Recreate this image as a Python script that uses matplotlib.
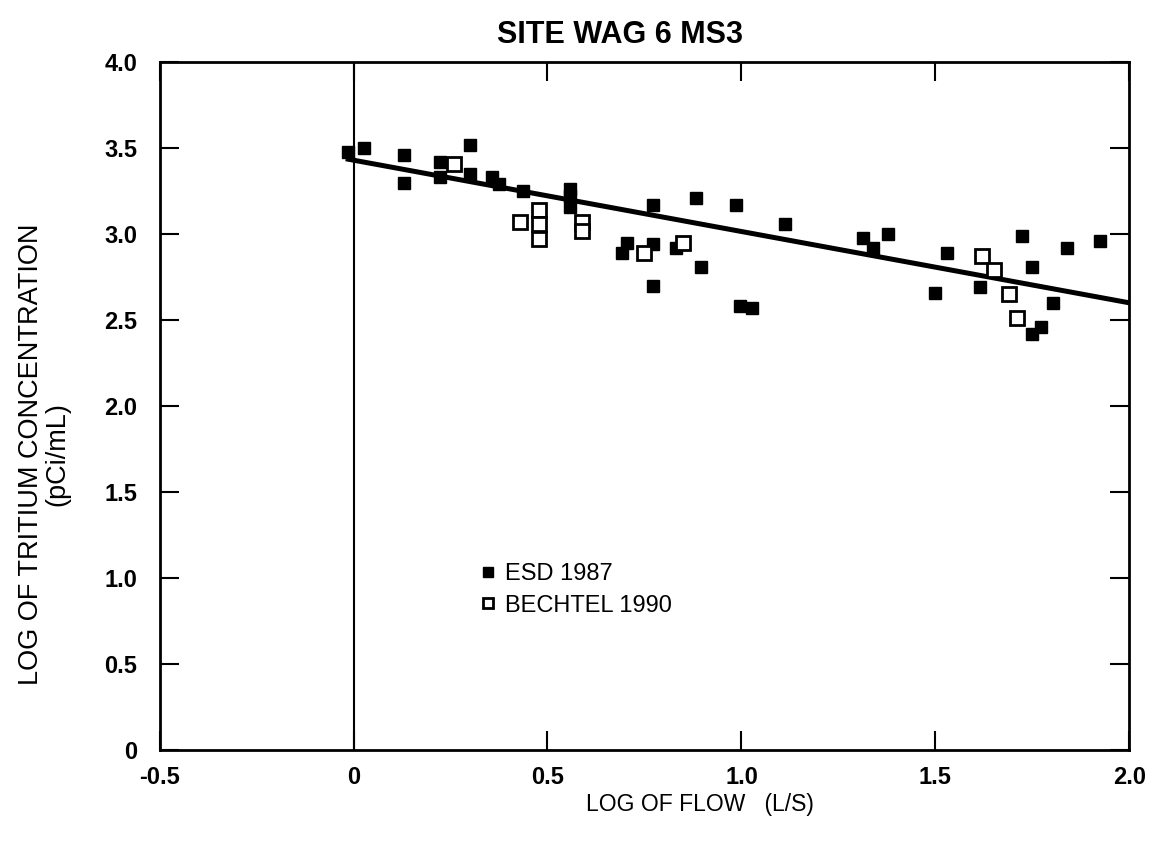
import matplotlib
matplotlib.use("Agg")
import matplotlib.pyplot as plt
import numpy as np

plt.rcParams['font.family'] = ['Liberation Sans', 'DejaVu Sans']

# ESD 1987 (filled squares)
esd_x = [-0.015, 0.026, 0.131, 0.131, 0.222, 0.222, 0.299, 0.299, 0.356, 0.376,
         0.438, 0.557, 0.557, 0.557, 0.691, 0.706, 0.771, 0.771, 0.771, 0.830,
         0.884, 0.897, 0.987, 0.997, 1.028, 1.111, 1.314, 1.338, 1.379, 1.500,
         1.531, 1.616, 1.724, 1.750, 1.773, 1.802, 1.840, 1.923, 1.750]
esd_y = [3.48, 3.50, 3.46, 3.30, 3.42, 3.33, 3.52, 3.35, 3.33, 3.29,
         3.25, 3.26, 3.22, 3.16, 2.89, 2.95, 2.94, 3.17, 2.70, 2.92,
         3.21, 2.81, 3.17, 2.58, 2.57, 3.06, 2.98, 2.92, 3.00, 2.66,
         2.89, 2.69, 2.99, 2.81, 2.46, 2.60, 2.92, 2.96, 2.42]

# BECHTEL 1990 (open squares)
bech_x = [0.26, 0.43, 0.477, 0.477, 0.477, 0.59, 0.59, 0.75, 0.85, 1.62, 1.65, 1.69, 1.71]
bech_y = [3.41, 3.07, 3.14, 3.06, 2.97, 3.07, 3.02, 2.89, 2.95, 2.87, 2.79, 2.65, 2.51]

# regression line
fit_intercept = 3.43
fit_slope = -0.415
fit_x = [-0.02, 2.0]

xticks = [-0.5, 0, 0.5, 1.0, 1.5, 2.0]
xtick_labels = ['-0.5', '0', '0.5', '1.0', '1.5', '2.0']
yticks = [0, 0.5, 1.0, 1.5, 2.0, 2.5, 3.0, 3.5, 4.0]
ytick_labels = ['0', '0.5', '1.0', '1.5', '2.0', '2.5', '3.0', '3.5', '4.0']

fig = plt.figure(figsize=(11.56, 8.52), dpi=100)
ax = fig.add_axes([0.138, 0.12, 0.839, 0.807])

ax.axvline(0, color='black', lw=1.5, zorder=1)
fx = np.array(fit_x)
ax.plot(fx, fit_intercept + fit_slope * fx, color='black', lw=3.6, zorder=2,
        solid_capstyle='butt')
ax.plot(esd_x, esd_y, 's', color='black', ms=8.8, ls='none', zorder=3,
        label='ESD 1987')
ax.plot(bech_x, bech_y, 's', mfc='white', mec='black', mew=2.0, ms=9.5,
        ls='none', zorder=4, label='BECHTEL 1990')

ax.set_xlim(-0.5, 2.0)
ax.set_ylim(0, 4.0)
ax.set_xticks(xticks)
ax.set_xticklabels(xtick_labels, fontsize=17, fontweight='bold')
ax.set_yticks(yticks)
ax.set_yticklabels(ytick_labels, fontsize=17, fontweight='bold')
ax.tick_params(axis='both', direction='in', length=14, width=1.5,
               top=True, right=True)
ax.tick_params(axis='x', pad=12)
ax.tick_params(axis='y', pad=16)
for s in ax.spines.values():
    s.set_linewidth(2.0)

ax.set_xlabel('LOG OF FLOW   (L/S)', fontsize=16.5)
ax.xaxis.set_label_coords(0.557, -0.063)
ax.set_ylabel('LOG OF TRITIUM CONCENTRATION\n(pCi/mL)', fontsize=19.5,
              linespacing=1.0)
ax.yaxis.set_label_coords(-0.092, 0.43)

ax.set_title('SITE WAG 6 MS3', fontsize=22, fontweight='bold', x=0.475, pad=14)

leg = ax.legend(loc='upper left', bbox_to_anchor=(0.322, 0.285), frameon=False,
                fontsize=17, markerscale=0.8, handlelength=0.6,
                handletextpad=0.4, labelspacing=0.4, borderaxespad=0)

fig.savefig('out.png', dpi=100)
